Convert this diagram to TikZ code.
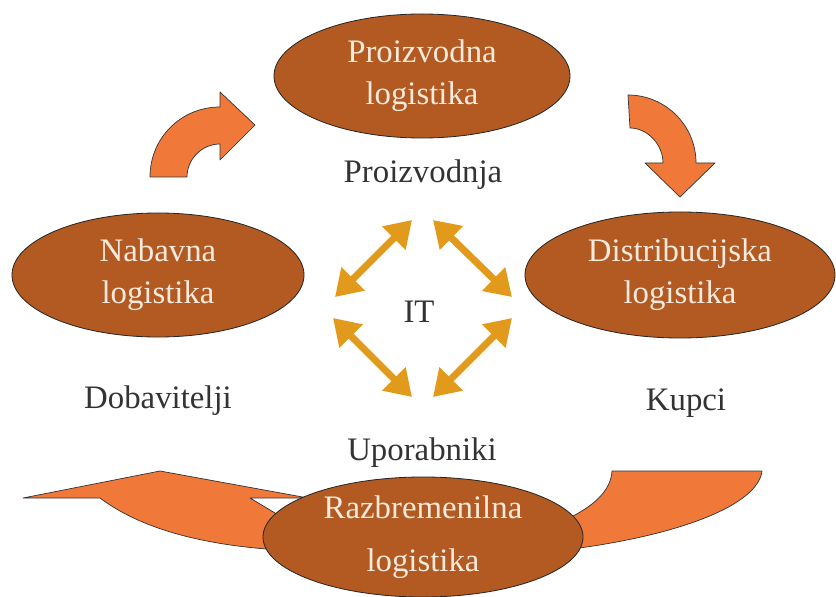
\documentclass[tikz,border=0pt]{standalone}
\usepackage{fontspec}
\setmainfont{Liberation Serif}
\usetikzlibrary{shapes.geometric,arrows.meta}
\definecolor{brique}{RGB}{178,90,34}
\definecolor{orangeF}{RGB}{240,121,58}
\definecolor{ocre}{RGB}{226,154,28}
\definecolor{creme}{RGB}{248,234,220}
\begin{document}
\begin{tikzpicture}[x=0.03cm,y=-0.03cm,
    logi/.style={ellipse,draw=black!85,line width=0.7pt,fill=brique,text=creme,inner sep=0pt,align=center,font=\fontsize{28}{36}\selectfont},
    lieu/.style={anchor=base,text=black!80,font=\fontsize{28}{34}\selectfont},
    bloc/.style={draw=black!80,fill=orangeF,line width=0.6pt,line join=round},
    lien/.style={{Triangle[width=27pt,length=22pt]}-{Triangle[width=27pt,length=22pt]},line width=6pt,draw=ocre}]
    \useasboundingbox (0,0) rectangle (836,597);
    % fleches courbes
    \draw[bloc] (150,177) .. controls (150,138) and (181,107) .. (220,107) -- (220,92) -- (255,125) -- (220,160) -- (220,144) .. controls (202,144) and (187,159) .. (187,177) -- cycle;
    \draw[bloc] (628,95) .. controls (665,95) and (696,125) .. (696,163) -- (715,163) -- (680,197) -- (645,163) -- (663,163) .. controls (663,144) and (647,128) .. (630,128) -- cycle;
    % queues sous la razbremenilna
    \draw[bloc] (23,498) -- (160,471) -- (308,498) -- (250,498) -- (290,522) -- (280,550) .. controls (200,545) and (140,528) .. (100,498) -- cycle;
    \draw[bloc] (612,471) -- (762,471) .. controls (758,505) and (680,535) .. (572,549) -- (565,520) .. controls (595,506) and (611,490) .. (612,471) -- cycle;
    % ellipses
    \node[logi,minimum width=8.88cm,minimum height=3.72cm] (proiz) at (422,76) {Proizvodna\\logistika};
    \node[logi,minimum width=8.76cm,minimum height=3.72cm] (nabav) at (158,275) {Nabavna\\logistika};
    \node[logi,minimum width=9.3cm,minimum height=3.78cm] (distr) at (680,275) {Distribucijska\\logistika};
    \node[logi,minimum width=9.6cm,minimum height=3.6cm,font=\fontsize{28}{45}\selectfont] (razbr) at (423,537) {Razbremenilna\\logistika};
    % textes
    \node[lieu] (prod) at (423,183) {Proizvodnja};
    \node[lieu] (dobav) at (158,408) {Dobavitelji};
    \node[lieu] (kupci) at (686,410) {Kupci};
    \node[lieu] (upor) at (422,460) {Uporabniki};
    \node[lieu] (it) at (419,322) {IT};
    % IT
    \coordinate (hg1) at (335,297); \coordinate (hg2) at (412,220);
    \coordinate (hd1) at (433,220); \coordinate (hd2) at (512,297);
    \coordinate (bg1) at (333,318); \coordinate (bg2) at (412,397);
    \coordinate (bd1) at (512,318); \coordinate (bd2) at (433,397);
    \draw[lien] (hg1) -- (hg2);
    \draw[lien] (hd1) -- (hd2);
    \draw[lien] (bg1) -- (bg2);
    \draw[lien] (bd1) -- (bd2);
\end{tikzpicture}
\end{document}
